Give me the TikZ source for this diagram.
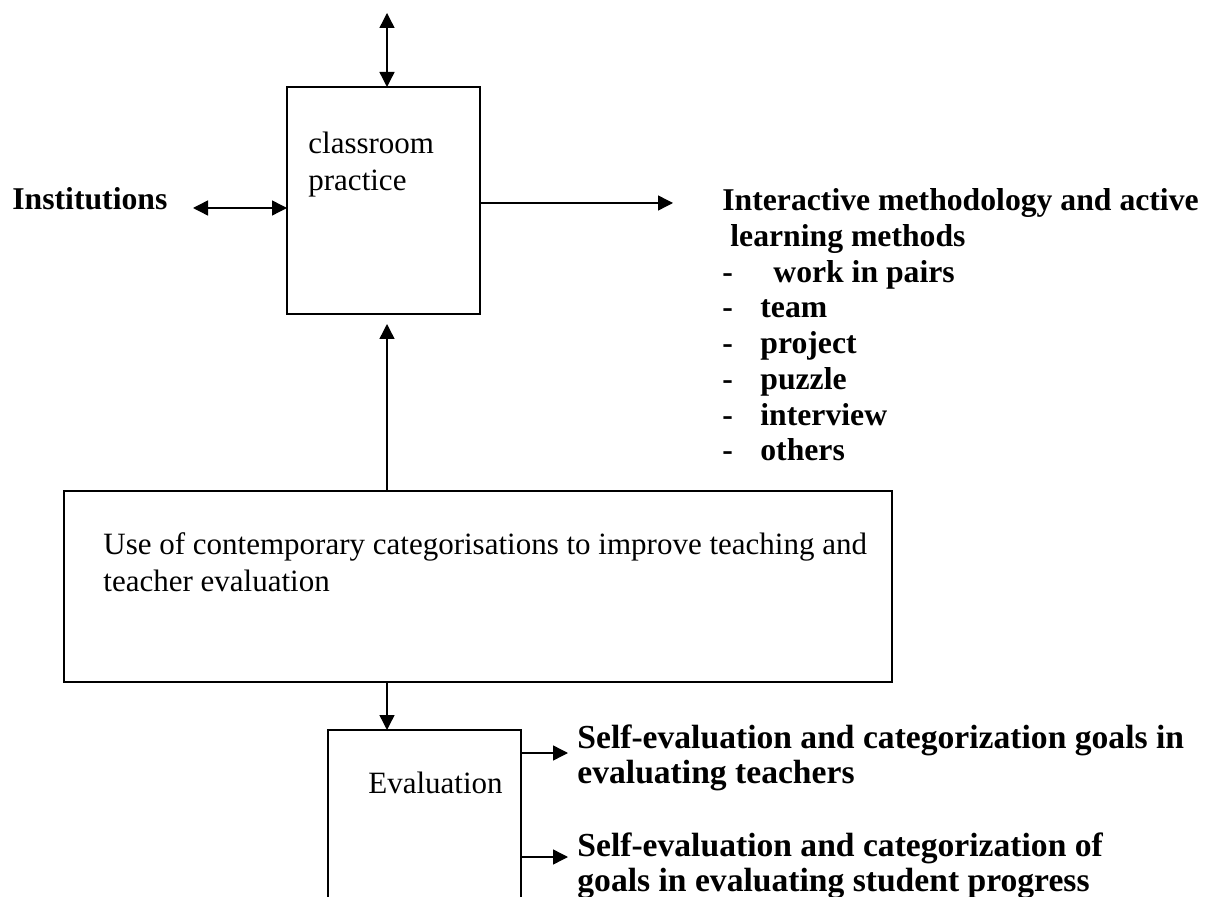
\documentclass[tikz,border=0pt]{standalone}
\usepackage{fontspec}
\setmainfont{Liberation Serif}
\usetikzlibrary{arrows.meta}

\tikzset{
    box/.style={draw, line width=0.7pt, inner sep=0pt, outer sep=0pt, anchor=north west},
    txt/.style={font=\fontsize{15.5}{18.5}\selectfont, inner sep=0pt, align=left},
    boldtxt/.style={font=\fontsize{15.85}{17.85}\selectfont\bfseries, inner sep=0pt, align=left},
    goaltxt/.style={font=\fontsize{16.8}{17.5}\selectfont\bfseries, inner sep=0pt, align=left},
    arr/.style={line width=0.7pt, -{Triangle[width=7.5pt,length=7.5pt]}},
    dblarr/.style={line width=0.7pt, {Triangle[width=7.5pt,length=7.5pt]}-{Triangle[width=7.5pt,length=7.5pt]}},
}

\begin{document}
\begin{tikzpicture}[x=0.5pt, y=-0.5pt]


    \useasboundingbox (0,0) rectangle (1209,897);
    \clip (0,0) rectangle (1209,897);

    % boxes
    \node[box, minimum width=96.5pt, minimum height=113.5pt] (class) at (287,87) {};
    \node[box, minimum width=414pt, minimum height=95.5pt] (use) at (64,491) {};
    \node[box, minimum width=96.5pt, minimum height=100pt] (eval) at (328,730) {};

    \node[txt, anchor=north west] (classlbl) at ([shift={(10.5pt,-22.5pt)}]class.north west) {classroom\\practice};
    \node[txt, anchor=north west] (uselbl) at ([shift={(19.5pt,-20.5pt)}]use.north west)
        {Use of contemporary categorisations to improve teaching and\\teacher evaluation};
    \node[txt, anchor=base west] (evallbl) at ([shift={(20pt,-31.5pt)}]eval.north west) {Evaluation};

    % texts outside
    \node[boldtxt, anchor=base west] (inst) at (12,210) {Institutions};
    \node[boldtxt, anchor=north west] (method) at (722,188.5) {Interactive methodology and active\\
        \hspace*{4pt}learning methods\\
        \makebox[25.5pt][l]{-}work in pairs\\
        \makebox[19pt][l]{-}team\\
        \makebox[19pt][l]{-}project\\
        \makebox[19pt][l]{-}puzzle\\
        \makebox[19pt][l]{-}interview\\
        \makebox[19pt][l]{-}others};
    \node[goaltxt, anchor=north west] (goalteach) at (577,724)
        {Self-evaluation and categorization goals in\\evaluating teachers};
    \node[goaltxt, anchor=north west] (goalstud) at (577,832)
        {Self-evaluation and categorization of\\goals in evaluating student progress};

    % free ends
    \coordinate (topend) at (387,13);
    \coordinate (instend) at (193,208);
    \coordinate (methend) at (673,203);
    \coordinate (teachend) at (568,753);
    \coordinate (studend) at (568,857);

    \draw[dblarr] (topend) -- (topend |- class.north);
    \draw[dblarr] (instend) -- (instend -| class.west);
    \draw[arr] (methend -| class.east) -- (methend);
    \draw[arr, shorten >=5pt] (topend |- use.north) -- (topend |- class.south);
    \draw[arr] (topend |- use.south) -- (topend |- eval.north);
    \draw[arr] (teachend -| eval.east) -- (teachend);
    \draw[arr] (studend -| eval.east) -- (studend);


\end{tikzpicture}
\end{document}
